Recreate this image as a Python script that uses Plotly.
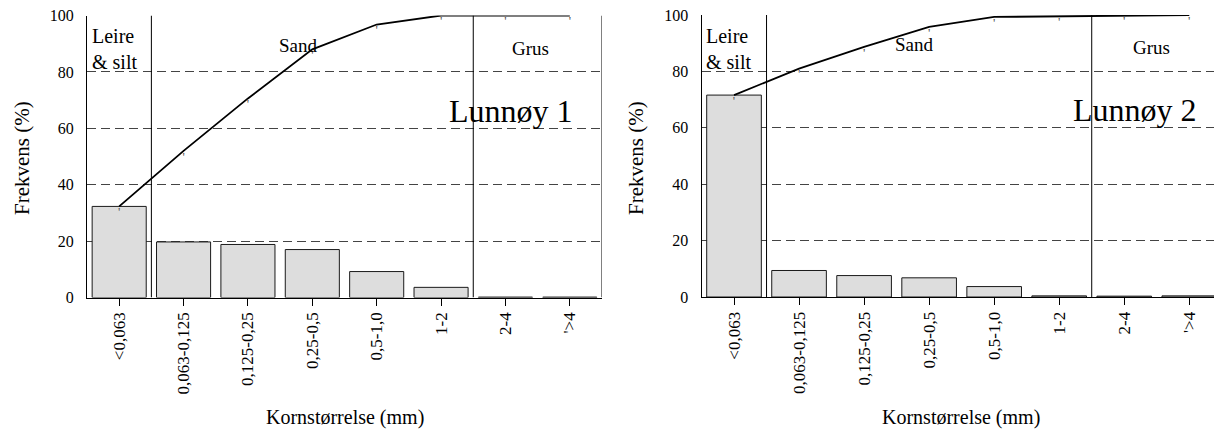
import plotly.graph_objects as go

W, H = 1214, 432

categories = ["<0,063", "0,063-0,125", "0,125-0,25", "0,25-0,5", "0,5-1,0", "1-2", "2-4", "'>4"]
freq_1 = [32.3, 19.7, 18.8, 17.0, 9.2, 3.6, 0.15, 0.15]
cum_1 = [32.3, 52.0, 70.6, 88.0, 96.8, 100.0, 100.0, 100.0]
freq_2 = [71.6, 9.4, 7.6, 6.8, 3.7, 0.4, 0.3, 0.4]
cum_2 = [71.6, 81.0, 88.7, 95.8, 99.3, 99.6, 99.8, 100.0]
y_ticks = [0, 20, 40, 60, 80, 100]
zone_labels = ["Leire<br>& silt", "Sand", "Grus"]
site_labels = ["Lunnøy 1", "Lunnøy 2"]
x_title = "Kornstørrelse (mm)"
y_title = "Frekvens (%)"

FONT = "Liberation Serif"


def px(x):
    return x / W


def py(y):
    return 1 - y / H


fig = go.Figure()

panels = [
    dict(freq=freq_1, cum=cum_1, xa="x", ya="y", site=site_labels[0],
         dom=[px(87), px(602)], rng=[-0.5, 7.5], ytitle_x=22, xtitle_x=345,
         site_x=6.08, sand_x=2.79, grus_x=6.39, border=True),
    dict(freq=freq_2, cum=cum_2, xa="x2", ya="y2", site=site_labels[1],
         dom=[px(701.5), 1.0], rng=[-0.5, 7.38], ytitle_x=636, xtitle_x=961,
         site_x=6.17, sand_x=2.78, grus_x=6.42, border=False),
]

annotations = []
shapes = []
for p in panels:
    fig.add_trace(go.Bar(
        x=categories, y=p["freq"], xaxis=p["xa"], yaxis=p["ya"], width=0.84,
        marker=dict(color="#dddddd", line=dict(color="#1a1a1a", width=1)),
        showlegend=False, hoverinfo="skip"))
    fig.add_trace(go.Scatter(
        x=categories, y=p["cum"], xaxis=p["xa"], yaxis=p["ya"],
        mode="lines+text", text=["'"] * len(categories), textposition="bottom center",
        textfont=dict(family=FONT, size=13, color="#555555"),
        line=dict(color="black", width=1.8), showlegend=False, hoverinfo="skip",
        cliponaxis=False))
    xr, yr = p["xa"], p["ya"]
    for xv in (0.5, 5.5):
        shapes.append(dict(type="line", xref=xr, yref=yr, x0=xv, x1=xv, y0=0, y1=100,
                           line=dict(color="black", width=1)))
    if p["border"]:
        shapes.append(dict(type="line", xref=xr, yref=yr, x0=7.5, x1=7.5, y0=0, y1=100,
                           line=dict(color="black", width=1)))
    annotations += [
        dict(text=zone_labels[0], xref=xr, yref=yr, x=-0.5, y=88.0, xanchor="left",
             yanchor="middle", xshift=3, align="left", showarrow=False,
             font=dict(family=FONT, size=20, color="black")),
        dict(text=zone_labels[1], xref=xr, yref=yr, x=p["sand_x"], y=89.5,
             xanchor="center", yanchor="middle",
             showarrow=False, font=dict(family=FONT, size=19, color="black")),
        dict(text=zone_labels[2], xref=xr, yref=yr, x=p["grus_x"], y=88.3,
             xanchor="center", yanchor="middle",
             showarrow=False, font=dict(family=FONT, size=19, color="black")),
        dict(text=p["site"], xref=xr, yref=yr, x=p["site_x"], y=66.3,
             xanchor="center", yanchor="middle",
             showarrow=False, font=dict(family=FONT, size=32, color="black")),
        dict(text=y_title, xref="paper", yref="paper", x=px(p["ytitle_x"]), y=py(158),
             xanchor="center", yanchor="middle",
             textangle=-90, showarrow=False, font=dict(family=FONT, size=21, color="black")),
        dict(text=x_title, xref="paper", yref="paper", x=px(p["xtitle_x"]), y=py(417),
             xanchor="center", yanchor="middle",
             showarrow=False, font=dict(family=FONT, size=20, color="black")),
    ]

xaxis_common = dict(
    type="category", showline=True, linecolor="black", linewidth=1,
    ticks="outside", ticklen=7, tickcolor="black", tickwidth=1,
    tickangle=-90, tickfont=dict(family=FONT, size=17, color="black"),
    showgrid=False, zeroline=False, fixedrange=True, automargin=False,
)
yaxis_common = dict(
    range=[0, 100], tickvals=y_ticks, showline=True, linecolor="black", linewidth=1,
    ticks="outside", ticklen=9, tickcolor="rgba(0,0,0,0)",
    tickfont=dict(family=FONT, size=16, color="black"),
    showgrid=True, gridcolor="#444444", gridwidth=1, griddash="9px,5px",
    zeroline=False, fixedrange=True, automargin=False,
)

fig.update_layout(
    width=W, height=H, margin=dict(l=0, r=0, t=0, b=0, autoexpand=False),
    paper_bgcolor="white", plot_bgcolor="white",
    xaxis=dict(domain=panels[0]["dom"], range=panels[0]["rng"], anchor="y", **xaxis_common),
    yaxis=dict(domain=[py(297.5), py(15.5)], anchor="x", **yaxis_common),
    xaxis2=dict(domain=panels[1]["dom"], range=panels[1]["rng"], anchor="y2", **xaxis_common),
    yaxis2=dict(domain=[py(297), py(15)], anchor="x2", **yaxis_common),
    annotations=annotations, shapes=shapes, bargap=0.16,
    font=dict(family=FONT),
)

fig.write_html("out.html")
